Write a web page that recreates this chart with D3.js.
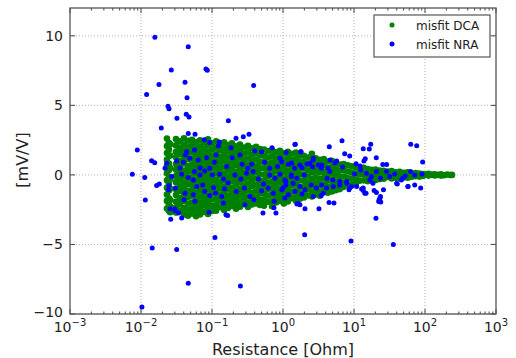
<!DOCTYPE html>
<html><head><meta charset="utf-8">
<script src="https://cdn.jsdelivr.net/npm/d3@7"></script>
<style>body{margin:0;background:#fff}svg{display:block}text{font-family:"DejaVu Sans",sans-serif}</style>
</head><body><svg id="c" width="516" height="358"></svg>
<script>
// ---- data (Resistance [Ohm], misfit [mV/V]) ----
const seriesNames = ["misfit DCA", "misfit NRA"];
const xTickExps = [-3, -2, -1, 0, 1, 2, 3];
const yTicks = [-10, -5, 0, 5, 10];

// DCA misfit: grouped by resistance column
const dcaColumns = [
 [0.0232,[2.62,2.08,1.57,1.09,0.61,0.12,-0.38,-0.93,-1.41,-1.87,-2.42]],
 [0.0247,[2.31,1.83,1.36,0.82,0.33,-0.17,-0.66,-1.12,-1.68,-2.14,-2.58]],
 [0.0258,[2.2,1.4,0.5,-0.3,-1.0,-1.8,-2.3,-2.68]],
 [0.0311,[2.58,2.12,1.66,1.27,0.78,0.37,-0.08,-0.52,-1.03,-1.44,-1.92,-2.33,-2.71]],
 [0.0354,[2.41,1.93,1.52,1.02,0.63,0.14,-0.31,-0.77,-1.18,-1.69,-2.08,-2.57]],
 [0.0403,[2.63,2.17,1.71,1.22,0.83,0.31,-0.12,-0.58,-0.97,-1.47,-1.88,-2.38,-2.84]],
 [0.0459,[2.46,1.98,1.57,1.13,0.62,0.22,-0.27,-0.69,-1.17,-1.58,-2.06,-2.49,-2.93]],
 [0.0523,[2.52,2.09,1.63,1.18,0.74,0.29,-0.18,-0.63,-1.08,-1.52,-1.99,-2.44,-2.78]],
 [0.0596,[2.37,1.91,1.46,1.01,0.57,0.11,-0.36,-0.81,-1.26,-1.71,-2.16,-2.62,-2.97]],
 [0.0678,[2.49,2.03,1.58,1.14,0.69,0.24,-0.21,-0.66,-1.11,-1.56,-2.01,-2.46,-2.85]],
 [0.0771,[2.33,1.87,1.42,0.96,0.51,0.06,-0.39,-0.84,-1.29,-1.74,-2.19,-2.66]],
 [0.0879,[2.56,2.11,1.66,1.21,0.76,0.31,-0.14,-0.59,-1.04,-1.49,-1.94,-2.39,-2.81]],
 [0.1,[2.28,1.83,1.38,0.93,0.48,0.03,-0.42,-0.87,-1.32,-1.77,-2.22,-2.6]],
 [0.114,[2.41,1.95,1.49,1.04,0.58,0.12,-0.34,-0.79,-1.25,-1.71,-2.17,-2.58]],
 [0.130,[2.22,1.78,1.31,0.87,0.42,-0.04,-0.49,-0.95,-1.41,-1.86,-2.33]],
 [0.148,[2.35,1.89,1.44,0.98,0.53,0.07,-0.38,-0.84,-1.29,-1.75,-2.21,-2.52]],
 [0.168,[2.14,1.69,1.23,0.78,0.32,-0.13,-0.59,-1.04,-1.5,-1.96,-2.38]],
 [0.191,[2.27,1.81,1.36,0.9,0.45,-0.01,-0.46,-0.92,-1.37,-1.83,-2.24]],
 [0.218,[2.05,1.6,1.14,0.69,0.23,-0.22,-0.68,-1.13,-1.59,-2.04,-2.43]],
 [0.248,[2.18,1.72,1.27,0.81,0.36,-0.1,-0.55,-1.01,-1.46,-1.92,-2.29]],
 [0.282,[1.97,1.52,1.06,0.61,0.15,-0.3,-0.76,-1.21,-1.67,-2.1]],
 [0.321,[2.09,1.63,1.18,0.72,0.27,-0.19,-0.64,-1.1,-1.55,-2.0,-2.31]],
 [0.366,[1.91,1.45,1.0,0.54,0.09,-0.37,-0.82,-1.28,-1.73,-2.12]],
 [0.417,[2.02,1.56,1.11,0.65,0.2,-0.26,-0.71,-1.17,-1.62,-2.05]],
 [0.474,[1.86,1.4,0.95,0.49,0.04,-0.42,-0.87,-1.33,-1.78,-2.16]],
 [0.54,[1.83,1.38,0.92,0.47,0.01,-0.44,-0.9,-1.35,-1.81,-2.22]],
 [0.614,[1.71,1.25,0.8,0.34,-0.11,-0.57,-1.02,-1.48,-1.93]],
 [0.70,[1.79,1.33,0.88,0.42,-0.03,-0.49,-0.94,-1.4,-1.86,-2.25]],
 [0.796,[1.62,1.17,0.71,0.26,-0.2,-0.65,-1.11,-1.56,-1.98]],
 [0.906,[1.74,1.28,0.83,0.37,-0.08,-0.54,-0.99,-1.45,-1.87]],
 [1.03,[1.55,1.1,0.64,0.19,-0.27,-0.72,-1.18,-1.63,-2.05]],
 [1.17,[1.67,1.21,0.76,0.3,-0.15,-0.61,-1.06,-1.52,-1.91]],
 [1.33,[1.52,1.06,0.61,0.15,-0.3,-0.76,-1.21,-1.67]],
 [1.52,[1.6,1.14,0.69,0.23,-0.22,-0.68,-1.13,-1.59,-1.86]],
 [1.73,[1.43,0.97,0.52,0.06,-0.39,-0.85,-1.3,-1.72]],
 [1.97,[1.38,0.93,0.47,0.02,-0.44,-0.89,-1.35,-1.62]],
 [2.24,[1.25,0.8,0.34,-0.11,-0.57,-1.02,-1.48]],
 [2.55,[1.52,1.08,0.62,0.17,-0.29,-0.74,-1.2,-1.55]],
 [2.9,[1.19,0.73,0.28,-0.18,-0.63,-1.09,-1.41]],
 [3.3,[1.08,0.62,0.17,-0.29,-0.74,-1.2,-1.5]],
 [3.76,[1.14,0.69,0.23,-0.22,-0.68,-1.13]],
 [4.28,[0.96,0.5,0.05,-0.41,-0.86,-1.28]],
 [4.87,[1.02,0.57,0.11,-0.34,-0.8,-1.19]],
 [5.54,[0.88,0.42,-0.03,-0.49,-0.94,-1.1]],
 [6.3,[0.75,0.3,-0.16,-0.61,-1.02]],
 [7.17,[0.78,0.33,-0.12,-0.58,-0.86]],
 [8.16,[0.69,0.24,-0.22,-0.67]],
 [9.29,[0.62,0.17,-0.28,-0.72]],
 [10.6,[0.55,0.1,-0.35,-0.63]],
 [12.0,[0.48,0.03,-0.42]],
 [13.7,[0.51,0.06,-0.39]],
 [15.6,[0.42,-0.03,-0.46]],
 [17.7,[0.36,-0.09,-0.4]],
 [20.2,[0.39,0.0,-0.37]],
 [23.0,[0.32,-0.06,-0.3]],
 [26.2,[0.3,-0.08,-0.28]],
 [29.8,[0.25,-0.15]],
 [33.9,[0.28,-0.05,-0.26]],
 [38.6,[0.18,-0.2]],
 [43.9,[0.22,-0.08,-0.24]],
 [50,[0.15,-0.16]],
 [56.9,[0.19,-0.06,-0.2]],
 [64.8,[0.12,-0.14]],
 [73.7,[0.14,-0.1]],
 [83.9,[0.09,-0.12]],
 [93,[0.06,-0.08]],
 [101,[0.03]],
 [112,[-0.05,0.08]],
 [124,[0.02]],
 [137,[-0.04,0.05]],
 [152,[0.0]],
 [168,[0.04,-0.05]],
 [186,[-0.02]],
 [206,[0.03]],
 [228,[-0.01]],
 [240,[0.0]]
];

// NRA misfit points [R, mV/V]
const nraPoints = [
 [0.0157,9.9],[0.0463,9.21],[0.0267,7.55],[0.0822,7.62],[0.0859,7.52],[0.0417,6.66],[0.0179,6.5],[0.386,6.43],
 [0.0120,5.79],[0.0445,5.55],[0.0240,4.93],[0.0248,4.76],[0.0434,4.36],[0.0474,4.16],[0.0321,4.07],[0.170,3.9],
 [0.0193,3.38],[0.0463,2.98],[0.0577,2.93],[0.218,2.64],[0.276,2.74],[0.332,2.93],[0.00887,1.79],[0.0141,1.02],
 [0.0156,0.88],[0.00755,0.05],[0.0113,-0.19],[0.0166,-0.76],[0.0181,-0.66],[0.0115,-1.81],[0.0299,-2.45],
 [0.0339,-2.74],[0.0374,-3.09],[0.0262,-3.19],[0.0908,-2.69],[0.157,-2.86],[0.166,-2.91],[0.522,-2.74],
 [0.746,-2.36],[0.796,-2.74],[0.110,-4.5],[0.0144,-5.26],[0.0318,-5.36],[0.0463,-7.79],[0.251,-7.98],[0.0103,-9.5],
 [1.49,2.21],[6.78,2.45],[4.49,2.02],[1.77,1.66],[17.2,2.21],[16.4,1.86],[13.5,1.88],[63,2.21],[76.4,2.09],
 [7.4,1.52],[8.7,1.36],[20.6,1.24],[14.4,1.17],[13.8,1.0],[92.6,0.93],[25.4,0.74],[28.8,0.74],[5.7,1.0],[4.6,1.07],
 [10.7,0.81],[12.2,0.64],[2.67,1.07],
 [86.9,-0.95],[57.7,-0.84],[40.7,-0.66],[23.2,-1.66],[23.8,-1.95],[22.3,-1.91],[20.4,-3.12],[13.5,-1.12],
 [14.8,-1.31],[12.8,-1.02],[2.02,-4.31],[9.08,-4.76],[35.8,-5.0],[2.04,-2.43],[3.21,-2.43],[4.45,-1.98],
 [5.22,-2.02],[3.46,-1.48],[1.63,-2.05],[0.127,2.36],[0.078,2.52],
 [0.0927,2.33],[0.123,2.1],[0.185,1.95],[0.248,1.43],[0.193,1.24],[0.40,1.71],[0.50,1.66],[0.70,1.95],
 [0.906,1.19],[1.11,1.62],[1.47,2.19],[1.80,1.66],
 [0.0439,1.66],[0.0567,1.79],[0.0317,1.0],[0.0395,0.91],[0.0488,1.19],[0.064,1.07],[0.084,1.24],[0.0927,0.48],
 [0.108,0.91],[0.161,0.6],[0.265,0.76],[0.318,0.48],[0.362,0.76],[0.55,0.91],[0.65,0.48],[0.84,0.6],[0.96,0.95],
 [1.19,0.76],[1.45,0.48],[1.85,0.52],[0.0218,0.48],[0.0271,-0.12],[0.0247,-0.76],[0.0244,-1.07],[0.0372,0.05],
 [0.0463,-0.19],[0.0566,0.24],[0.0678,0.0],[0.079,0.29],[0.101,0.0],[0.128,0.05],[0.145,-0.29],[0.21,0.0],
 [0.255,-0.29],[0.306,0.12],[0.38,0.24],[0.45,-0.29],[0.53,-0.66],[0.65,0.0],[0.77,-0.24],[0.906,0.05],
 [1.09,-0.48],[1.31,0.0],[1.57,-0.24],[1.99,0.0],
 [0.0305,-0.95],[0.0416,-1.31],[0.0547,-1.43],[0.0609,-0.84],[0.079,-1.19],[0.0927,-1.48],[0.112,-1.31],
 [0.137,-1.55],[0.15,-1.0],[0.22,-1.19],[0.286,-0.95],[0.342,-1.55],[0.50,-1.14],[0.62,-0.95],[0.73,-1.31],
 [0.96,-1.07],[1.19,-1.43],[1.47,-1.19],[1.85,-1.38],[0.0573,-1.9],[0.145,-2.02],[0.29,-2.14],[0.39,-1.79],
 [0.75,-1.9],[1.06,-1.66],[1.57,-2.1],[0.0257,-2.43],[0.0303,-2.57],[1.73,-2.14],
 [2.67,1.19],[2.39,0.83],[3.15,0.71],[3.46,0.48],[4.56,0.24],[4.18,-0.24],[5.04,-0.36],[6.3,-0.48],[7.9,-0.48],
 [9.2,-0.84],[8.5,-1.07],[10.2,0.07],[12.4,0.36],[15.0,0.12],[17.6,-0.12],[20.7,0.24],[23.6,-0.24],[13.5,-0.95],
 [14.2,-1.31],[16.7,-0.36],[19.2,-1.12],[20.7,-1.26],[22.6,-1.79],[23.6,-1.55],[28.8,0.24],[31.8,-0.12],
 [37.4,0.07],[48.6,-0.24],[52.5,-0.07],[62.5,0.24],[71.6,0.0],[91,0.07],[39.9,-0.6],[46.5,-0.36],[57.4,-0.84],
 [71.6,-0.72],[26,-1.07],[18.5,-0.6],
 [1.33,0.86],[1.73,0.71],[2.18,0.79],[2.6,0.57],[3.5,0.71],[4.3,0.5],[5.4,0.86],[6.9,0.57],
 [1.1,-0.72],[1.39,-0.6],[1.73,-0.84],[2.03,-1.07],[2.5,-0.72],[2.96,-0.95],[3.5,-0.72],[4.1,-0.95],[5.1,-0.84],
 [6.3,-0.72],[7.9,-0.6],[8.7,-0.95],[10.9,-0.84],[3.7,-1.31],[2.67,-1.55],[1.0,-0.95],[1.06,-0.36],[1.32,-0.12],
 [0.0354,0.5],[0.0422,1.43],[0.0678,0.5],[0.114,1.43],[0.0547,-0.36],[0.074,-0.72],[0.105,-0.93],[0.168,-0.57],
 [0.0403,-1.79],[0.023,0.84]
];

const colors = ["#008000", "#0000ff"];

// ---- chart ----
const svg = d3.select("#c");
const L = 70, R = 496, T = 8, B = 314;
const x = d3.scaleLog().domain([1e-3, 1e3]).range([L, R]);
const y = d3.scaleLinear().domain([-10, 12]).range([B, T]);

const dcaPoints = dcaColumns.flatMap(([r, vs]) => vs.map(v => [r, v]));

// grid
const grid = svg.append("g").attr("stroke", "#b0b0b0").attr("stroke-width", 1).attr("stroke-dasharray", "1,2");
xTickExps.slice(1, -1).forEach(e => {
  grid.append("line").attr("x1", x(Math.pow(10, e))).attr("x2", x(Math.pow(10, e))).attr("y1", T).attr("y2", B);
});
yTicks.forEach(v => {
  grid.append("line").attr("x1", L).attr("x2", R).attr("y1", y(v)).attr("y2", y(v));
});

// points
svg.append("g").selectAll("circle").data(dcaPoints).join("circle")
  .attr("cx", d => x(d[0])).attr("cy", d => y(d[1])).attr("r", 3.3).attr("fill", colors[0]);
svg.append("g").selectAll("circle").data(nraPoints).join("circle")
  .attr("cx", d => x(d[0])).attr("cy", d => y(d[1])).attr("r", 2.5).attr("fill", colors[1]);

// ticks
const minor = [];
for (let e = -3; e < 3; e++) for (let k = 2; k <= 9; k++) minor.push(k * Math.pow(10, e));
const tk = svg.append("g").attr("stroke", "#444").attr("stroke-width", 1);
minor.forEach(m => {
  tk.append("line").attr("x1", x(m)).attr("x2", x(m)).attr("y1", B).attr("y2", B - 2.5);
  tk.append("line").attr("x1", x(m)).attr("x2", x(m)).attr("y1", T).attr("y2", T + 2.5);
});
xTickExps.forEach(e => {
  const p = x(Math.pow(10, e));
  tk.append("line").attr("x1", p).attr("x2", p).attr("y1", B).attr("y2", B - 5);
  tk.append("line").attr("x1", p).attr("x2", p).attr("y1", T).attr("y2", T + 5);
});
yTicks.forEach(v => {
  tk.append("line").attr("x1", L).attr("x2", L + 5).attr("y1", y(v)).attr("y2", y(v));
  tk.append("line").attr("x1", R).attr("x2", R - 5).attr("y1", y(v)).attr("y2", y(v));
});

// frame
svg.append("rect").attr("x", L).attr("y", T).attr("width", R - L).attr("height", B - T)
  .attr("fill", "none").attr("stroke", "#555").attr("stroke-width", 1.3);

// tick labels
const tl = svg.append("g").attr("fill", "#222").attr("font-size", 14);
xTickExps.forEach(e => {
  const t = tl.append("text").attr("x", x(Math.pow(10, e))).attr("y", 332).attr("text-anchor", "middle");
  t.append("tspan").text("10");
  t.append("tspan").attr("dy", -6).attr("font-size", 10).text(e < 0 ? "\u2212" + (-e) : String(e));
});
yTicks.forEach(v => {
  tl.append("text").attr("x", L - 7).attr("y", y(v) + (v === -10 ? 3 : 5)).attr("text-anchor", "end")
    .text(v < 0 ? "\u2212" + (-v) : String(v));
});

// axis titles
svg.append("text").attr("x", 283).attr("y", 355).attr("text-anchor", "middle")
  .attr("font-size", 16).attr("fill", "#222").text("Resistance [Ohm]");
svg.append("text").attr("transform", "translate(28,160) rotate(-90)").attr("text-anchor", "middle")
  .attr("font-size", 16).attr("fill", "#222").text("[mV/V]");

// legend
const lg = svg.append("g");
lg.append("rect").attr("x", 374).attr("y", 15).attr("width", 116).attr("height", 42)
  .attr("fill", "#fff").attr("stroke", "#555").attr("stroke-width", 1.2);
seriesNames.forEach((n, i) => {
  lg.append("circle").attr("cx", 392).attr("cy", 25 + i * 19).attr("r", 2.5).attr("fill", colors[i]);
  lg.append("text").attr("x", 416).attr("y", 29.5 + i * 19).attr("font-size", 12).attr("fill", "#222").text(n);
});
</script></body></html>
